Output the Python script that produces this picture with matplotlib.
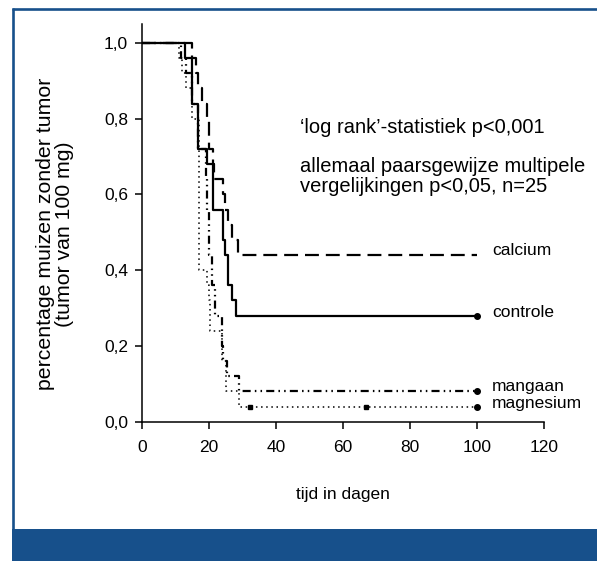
import matplotlib
matplotlib.use("Agg")
import matplotlib.pyplot as plt
from matplotlib.patches import Rectangle
from matplotlib.lines import Line2D

plt.rcParams['font.family'] = ['Liberation Sans', 'DejaVu Sans']
plt.rcParams['lines.scale_dashes'] = False

# ---- data (Kaplan-Meier step curves, n=25 per group) ----
controle_t = [0, 12.8, 14.8, 16.8, 19.3, 21.1, 24.2, 24.9, 25.7, 26.8, 28.1, 100]
controle_s = [1.0, 0.96, 0.84, 0.72, 0.68, 0.56, 0.48, 0.44, 0.36, 0.32, 0.28, 0.28]

calcium_t = [0, 15.0, 16.1, 16.8, 17.8, 19.3, 20.0, 21.1, 21.6, 24.3, 24.8, 25.8, 27.0, 28.7, 100]
calcium_s = [1.0, 0.96, 0.92, 0.88, 0.84, 0.80, 0.72, 0.68, 0.64, 0.60, 0.56, 0.52, 0.48, 0.44, 0.44]

mangaan_t = [0, 11.5, 13.0, 14.8, 16.8, 19.1, 19.5, 19.9, 20.1, 20.8, 21.8, 23.8, 24.3, 25.3, 29.0, 100]
mangaan_s = [1.0, 0.96, 0.92, 0.84, 0.72, 0.64, 0.56, 0.52, 0.44, 0.36, 0.28, 0.20, 0.16, 0.12, 0.08, 0.08]

magnesium_t = [0, 11.0, 11.8, 13.0, 14.8, 16.9, 19.3, 20.0, 20.3, 23.8, 25.0, 29.0, 100]
magnesium_s = [1.0, 0.96, 0.92, 0.88, 0.80, 0.40, 0.36, 0.32, 0.24, 0.16, 0.08, 0.04, 0.04]
magnesium_censor_t = [32.3, 67.0]
magnesium_censor_s = [0.04, 0.04]

x_ticks = [0, 20, 40, 60, 80, 100, 120]
y_ticks = [0.0, 0.2, 0.4, 0.6, 0.8, 1.0]
y_ticklabels = ['0,0', '0,2', '0,4', '0,6', '0,8', '1,0']

group_labels = ['calcium', 'controle', 'mangaan', 'magnesium']
group_label_y = [0.452, 0.287, 0.094, 0.047]

stat_lines = ['\u2018log rank\u2019-statistiek p<0,001',
              'allemaal paarsgewijze multipele',
              'vergelijkingen p<0,05, n=25']
stat_y = [0.778, 0.675, 0.620]

BLUE = '#17508b'
FS = 12.5
FS_STAT = 14.5
FS_YLAB = 15.3

W, H = 597, 561
fig = plt.figure(figsize=(W / 100, H / 100), dpi=100)

# frame decoration
fig.add_artist(Line2D([13.3 / W, 13.3 / W], [1 - 529 / H, 1 - 8 / H], transform=fig.transFigure,
                      color=BLUE, lw=1.9, solid_capstyle='butt'))
fig.add_artist(Line2D([12 / W, 1.0], [1 - 9 / H, 1 - 9 / H], transform=fig.transFigure,
                      color=BLUE, lw=1.9, solid_capstyle='butt'))
fig.add_artist(Rectangle((12 / W, 0), 1 - 12 / W, (H - 529) / H, transform=fig.transFigure,
                         facecolor=BLUE, edgecolor='none'))

ax = fig.add_axes([142 / W, 1 - 421.7 / H, (544 - 142) / W, (421.7 - 24) / H])

ax.step(magnesium_t, magnesium_s, where='post', color='black', lw=1.1,
        dashes=(1.1, 2.6), dash_capstyle='butt')
ax.step(mangaan_t, mangaan_s, where='post', color='black', lw=1.6,
        dashes=(5.8, 3.0, 1.1, 3.0, 1.1, 3.0), dash_capstyle='butt')
ax.step(calcium_t, calcium_s, where='post', color='black', lw=1.6,
        dashes=(10, 5), dash_capstyle='butt')
ax.step(controle_t, controle_s, where='post', color='black', lw=1.6)

ax.plot(magnesium_censor_t, magnesium_censor_s, ls='none', marker='s', ms=2.2, color='black')
ax.plot([controle_t[-1], mangaan_t[-1], magnesium_t[-1]],
        [controle_s[-1], mangaan_s[-1], magnesium_s[-1]],
        ls='none', marker='o', ms=4, color='black')

for lab, yy in zip(group_labels, group_label_y):
    ax.text(104.5, yy, lab, fontsize=FS, ha='left', va='center')

for s, yy in zip(stat_lines, stat_y):
    ax.text(47.2, yy, s, fontsize=FS_STAT, ha='left', va='center')

ax.set_xlim(0, 120)
ax.set_ylim(0, 1.05)
ax.set_xticks(x_ticks)
ax.set_xticklabels([str(v) for v in x_ticks])
ax.set_yticks(y_ticks)
ax.set_yticklabels(y_ticklabels)
ax.tick_params(axis='both', direction='out', length=5, width=1.1, labelsize=FS)
ax.tick_params(axis='x', pad=8)
ax.tick_params(axis='y', pad=5)
for side in ['top', 'right']:
    ax.spines[side].set_visible(False)
for side in ['left', 'bottom']:
    ax.spines[side].set_linewidth(1.1)
ax.spines['bottom'].set_bounds(0, 120)
ax.spines['left'].set_bounds(0, 1.05)

fig.text(343 / W, 1 - 495 / H, 'tijd in dagen', fontsize=FS, ha='center', va='center')
fig.text(55 / W, 1 - 234 / H, 'percentage muizen zonder tumor\n(tumor van 100 mg)',
         fontsize=FS_YLAB, ha='center', va='center', rotation=90, multialignment='center',
         linespacing=1.0)

fig.savefig('out.png', dpi=100)
